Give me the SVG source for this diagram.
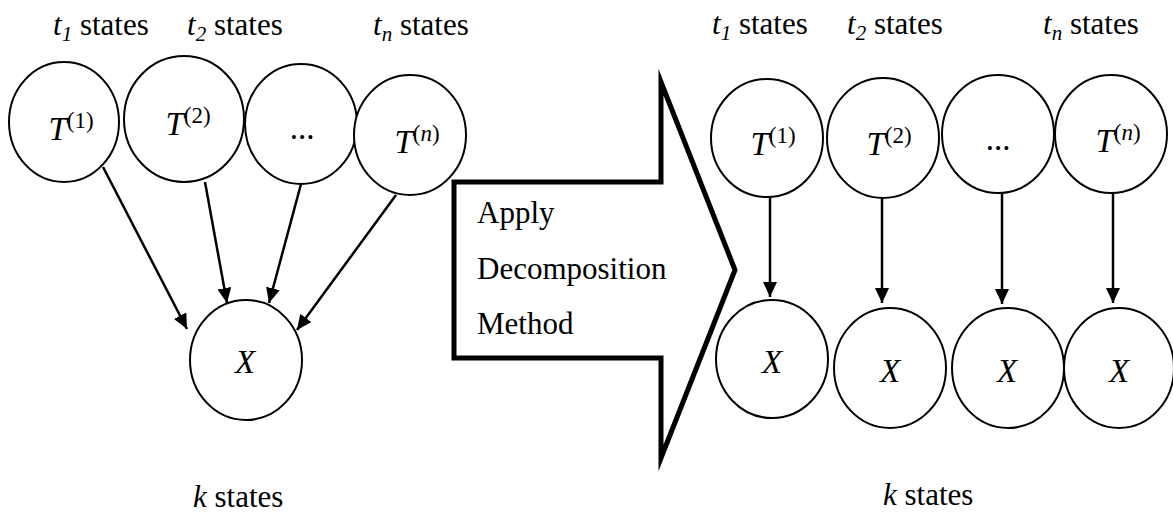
<svg xmlns="http://www.w3.org/2000/svg" width="1173" height="516" viewBox="0 0 1173 516" font-family="'Liberation Serif', 'Times New Roman', serif">
<style>
  .node { fill: #fff; stroke: #000; stroke-width: 2; }
  text { font-family: 'Liberation Serif', 'Times New Roman', serif; fill: #000; }
  .lbl { font-size: 31px; }
  .it { font-style: italic; }
  .m { font-size: 33px; text-anchor: middle; }
  .sup { font-style: normal; font-size: 23px; }
  .sub { font-style: italic; font-size: 21px; }
  .conn line { stroke: #000; stroke-width: 2.5; marker-end: url(#ah); }
  .big { fill: #fff; stroke: #000; stroke-width: 5; stroke-linejoin: miter; stroke-miterlimit: 10; }
</style>
<defs>
  <marker id="ah" markerUnits="userSpaceOnUse" markerWidth="16" markerHeight="14" refX="15" refY="7" orient="auto">
    <path d="M0,0 L15,7 L0,14 Z" fill="#000"/>
  </marker>
</defs>
<rect width="1173" height="516" fill="#fff"/>

<!-- top labels left -->
<text class="lbl" x="53" y="35"><tspan class="it">t</tspan><tspan class="sub" dy="6">1</tspan><tspan dy="-6"> states</tspan></text>
<text class="lbl" x="187" y="35"><tspan class="it">t</tspan><tspan class="sub" dy="6">2</tspan><tspan dy="-6"> states</tspan></text>
<text class="lbl" x="373" y="35"><tspan class="it">t</tspan><tspan class="sub" dy="6">n</tspan><tspan dy="-6"> states</tspan></text>

<!-- top labels right -->
<text class="lbl" x="712" y="34"><tspan class="it">t</tspan><tspan class="sub" dy="6">1</tspan><tspan dy="-6"> states</tspan></text>
<text class="lbl" x="847" y="34"><tspan class="it">t</tspan><tspan class="sub" dy="6">2</tspan><tspan dy="-6"> states</tspan></text>
<text class="lbl" x="1043" y="34"><tspan class="it">t</tspan><tspan class="sub" dy="6">n</tspan><tspan dy="-6"> states</tspan></text>

<!-- left nodes -->
<g id="L-T1"><ellipse class="node" cx="64" cy="122" rx="55" ry="60"/>
  <text class="m" x="71" y="140"><tspan class="it">T</tspan><tspan class="sup" dy="-12">(1)</tspan></text></g>
<g id="L-T2"><ellipse class="node" cx="184" cy="119" rx="60" ry="63"/>
  <text class="m" x="188" y="135"><tspan class="it">T</tspan><tspan class="sup" dy="-12">(2)</tspan></text></g>
<g id="L-Tdots"><ellipse class="node" cx="301" cy="124" rx="56" ry="60"/>
  <text class="m" x="302" y="139">...</text></g>
<g id="L-Tn"><ellipse class="node" cx="410" cy="135" rx="56" ry="60"/>
  <text class="m" x="417" y="153"><tspan class="it">T</tspan><tspan class="sup" dy="-12">(<tspan class="it">n</tspan>)</tspan></text></g>
<g id="L-X"><ellipse class="node" cx="246" cy="360" rx="56" ry="60"/>
  <text class="m it" x="245" y="373">X</text></g>

<!-- big arrow -->
<g id="apply-arrow">
  <path class="big" d="M454,182 L661,182 L661,82 L735,270 L661,458 L661,358 L454,358 Z"/>
  <text class="lbl" x="477" y="223">Apply</text>
  <text class="lbl" x="477" y="279">Decomposition</text>
  <text class="lbl" x="477" y="334">Method</text>
</g>

<!-- right nodes -->
<g id="R-T1"><ellipse class="node" cx="767" cy="138" rx="56" ry="59"/>
  <text class="m" x="773" y="155"><tspan class="it">T</tspan><tspan class="sup" dy="-12">(1)</tspan></text></g>
<g id="R-T2"><ellipse class="node" cx="883" cy="138" rx="56" ry="60"/>
  <text class="m" x="889" y="155"><tspan class="it">T</tspan><tspan class="sup" dy="-12">(2)</tspan></text></g>
<g id="R-Tdots"><ellipse class="node" cx="998" cy="134" rx="56" ry="59"/>
  <text class="m" x="998" y="150">...</text></g>
<g id="R-Tn"><ellipse class="node" cx="1111" cy="134" rx="56" ry="59"/>
  <text class="m" x="1118" y="152"><tspan class="it">T</tspan><tspan class="sup" dy="-12">(<tspan class="it">n</tspan>)</tspan></text></g>

<g id="R-X1"><ellipse class="node" cx="772" cy="359" rx="56" ry="59"/>
  <text class="m it" x="772" y="373">X</text></g>
<g id="R-X2"><ellipse class="node" cx="890" cy="368" rx="56" ry="60"/>
  <text class="m it" x="890" y="382">X</text></g>
<g id="R-X3"><ellipse class="node" cx="1008" cy="368" rx="56" ry="60"/>
  <text class="m it" x="1007" y="382">X</text></g>
<g id="R-X4"><ellipse class="node" cx="1119" cy="368" rx="55" ry="60"/>
  <text class="m it" x="1119" y="382">X</text></g>

<!-- connectors -->
<g id="connectors" class="conn">
  <line x1="103" y1="167" x2="187" y2="329"/>
  <line x1="205" y1="182" x2="227" y2="303"/>
  <line x1="301" y1="184" x2="269" y2="303"/>
  <line x1="396" y1="195" x2="297" y2="330"/>
  <line x1="770" y1="197" x2="770" y2="297"/>
  <line x1="882" y1="198" x2="882" y2="303"/>
  <line x1="1002" y1="193" x2="1002" y2="304"/>
  <line x1="1113" y1="193" x2="1113" y2="303"/>
</g>

<!-- bottom labels -->
<text class="lbl" x="193" y="507"><tspan class="it">k</tspan> states</text>
<text class="lbl" x="883" y="505"><tspan class="it">k</tspan> states</text>
</svg>
